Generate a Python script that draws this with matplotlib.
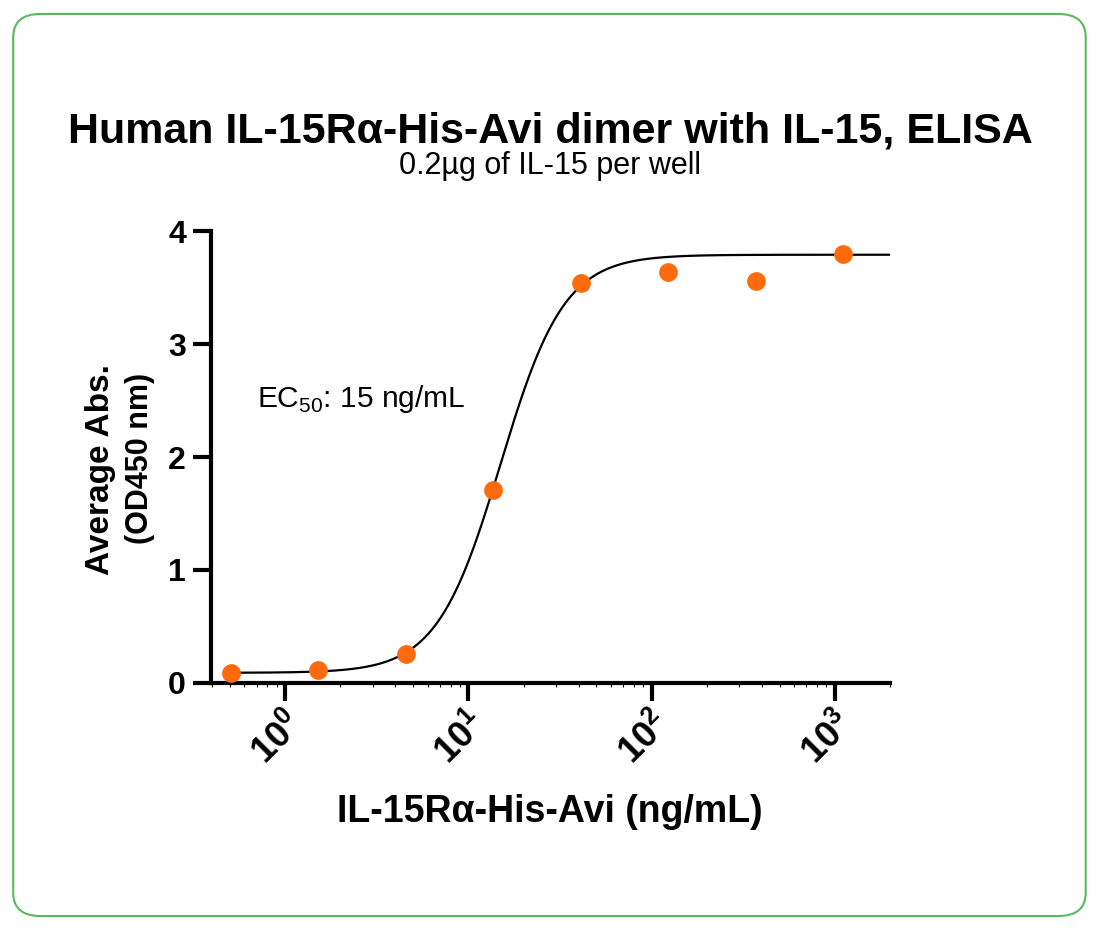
"""Dose-response ELISA plot"""

import numpy as np
import matplotlib
matplotlib.use("Agg")
import matplotlib.pyplot as plt
import matplotlib.ticker as ticker
from matplotlib.patches import FancyBboxPatch

plt.rcParams['font.family'] = ['Liberation Sans', 'DejaVu Sans']
plt.rcParams['mathtext.fontset'] = 'custom'
plt.rcParams['mathtext.rm'] = 'Liberation Sans'
plt.rcParams['mathtext.bf'] = 'Liberation Sans:bold'

# data
conc = [0.508, 1.52, 4.57, 13.7, 41.2, 123.5, 370.4, 1111.1]
absorb = [0.09, 0.115, 0.255, 1.71, 3.54, 3.64, 3.56, 3.80]

# fitted 4PL curve parameters
bottom, top, ec50, hill = 0.09, 3.79, 15.0, 2.5


def four_pl(x):
    return bottom + (top - bottom) / (1 + (ec50 / x) ** hill)


def pow_label(value, pos):
    exp = int(round(np.log10(value)))
    return r"$\mathbf{10^{%d}}$" % exp


fig = plt.figure(figsize=(11, 9.3), dpi=100)

# rounded green frame
frame = FancyBboxPatch((0.012, 0.015), 0.975, 0.97,
                       boxstyle="round,pad=0,rounding_size=0.025",
                       transform=fig.transFigure, facecolor='none',
                       edgecolor='#5cb85c', linewidth=1.5)
fig.patches.append(frame)

ax = fig.add_axes([0.1918, 0.2656, 0.6173, 0.486])

xs = np.logspace(np.log10(0.5), np.log10(2000), 400)
ax.plot(xs, four_pl(xs), color='black', linewidth=1.6, zorder=2)
ax.plot(conc, absorb, 'o', color='#ff6a0d', markersize=13.5,
        markeredgewidth=0, zorder=3)

ax.set_xscale('log')
ax.set_xlim(0.394, 2000)
ax.set_ylim(0, 4)
ax.set_yticks([0, 1, 2, 3, 4])
ax.xaxis.set_major_locator(ticker.FixedLocator([1, 10, 100, 1000]))
ax.xaxis.set_major_formatter(ticker.FuncFormatter(pow_label))
ax.xaxis.set_minor_locator(ticker.LogLocator(base=10, subs=np.arange(2, 10)))
ax.xaxis.set_minor_formatter(ticker.NullFormatter())

for side in ['top', 'right']:
    ax.spines[side].set_visible(False)
for side in ['left', 'bottom']:
    ax.spines[side].set_linewidth(3)

ax.tick_params(axis='both', which='major', width=3, length=13,
               labelsize=23, pad=5)
ax.tick_params(axis='x', which='major', labelsize=26, pad=4)
ax.tick_params(axis='x', which='minor', width=0.8, length=3)
for lab in ax.get_yticklabels():
    lab.set_fontweight('bold')
for lab in ax.get_xticklabels():
    lab.set_rotation(45)
    lab.set_ha('right')
    lab.set_va('top')
    lab.set_rotation_mode('anchor')

ax.text(0.068, 0.611, r"EC$_{50}$: 15 ng/mL", transform=ax.transAxes,
        fontsize=21.5)

fig.text(0.5, 0.859, "Human IL-15R\u03b1-His-Avi dimer with IL-15, ELISA",
         ha='center', va='center', fontsize=31, fontweight='bold')
fig.text(0.5, 0.821, "0.2\u00b5g of IL-15 per well", ha='center',
         va='center', fontsize=22)
fig.text(0.5, 0.127, "IL-15R\u03b1-His-Avi (ng/mL)", ha='center',
         va='center', fontsize=27, fontweight='bold')
fig.text(0.091, 0.4946, "Average Abs.", rotation=90, ha='center',
         va='center', fontsize=24, fontweight='bold')
fig.text(0.127, 0.5075, "(OD450 nm)", rotation=90, ha='center',
         va='center', fontsize=22, fontweight='bold')

fig.savefig("out.png", dpi=100)
